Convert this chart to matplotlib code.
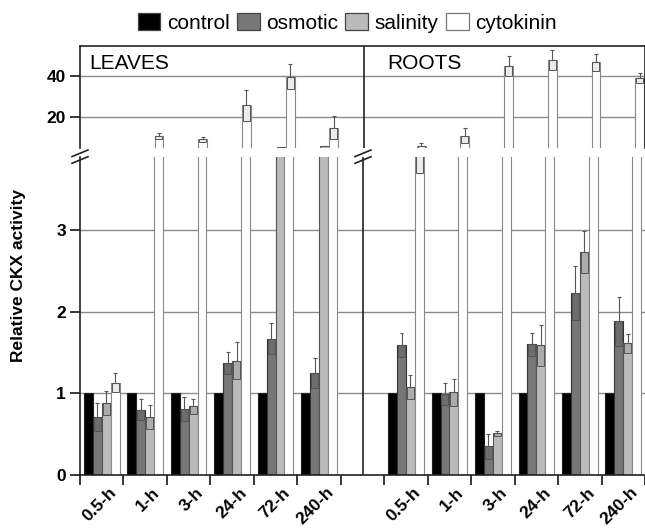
import matplotlib
matplotlib.use("Agg")
import matplotlib.pyplot as plt
import numpy as np
from matplotlib.patches import Patch
from matplotlib.lines import Line2D
import matplotlib.transforms as mtransforms

plt.rcParams['font.family'] = ['Liberation Sans', 'DejaVu Sans']

# ---------------- data ----------------
times = ['0.5-h', '1-h', '3-h', '24-h', '72-h', '240-h']
tissues = ['LEAVES', 'ROOTS']
series = ['control', 'osmotic', 'salinity', 'cytokinin']

leaves_control = [1, 1, 1, 1, 1, 1]
leaves_osmotic = [0.71, 0.80, 0.81, 1.37, 1.67, 1.25]
leaves_osmotic_err = [0.17, 0.13, 0.15, 0.13, 0.19, 0.18]
leaves_salinity = [0.88, 0.71, 0.84, 1.40, 5.2, 5.7]
leaves_salinity_err = [0.15, 0.15, 0.09, 0.23, 0.0, 0.0]
leaves_cytokinin = [1.13, 10.5, 9.0, 25.5, 39.5, 14.6]
leaves_cytokinin_err = [0.12, 1.5, 1.2, 7.5, 6.0, 5.5]

roots_control = [1, 1, 1, 1, 1, 1]
roots_osmotic = [1.59, 0.99, 0.35, 1.60, 2.23, 1.88]
roots_osmotic_err = [0.15, 0.13, 0.15, 0.14, 0.33, 0.30]
roots_salinity = [1.08, 1.01, 0.51, 1.59, 2.73, 1.61]
roots_salinity_err = [0.15, 0.16, 0.03, 0.25, 0.26, 0.12]
roots_cytokinin = [5.5, 10.7, 44.7, 47.7, 46.5, 38.7]
roots_cytokinin_err = [1.8, 3.7, 4.8, 4.7, 4.2, 2.5]

lower_ticks = [0, 1, 2, 3]
upper_ticks = [20, 40]
ylabel = 'Relative CKX activity'

# ---------------- style ----------------
colors = ['#000000', '#777777', '#bbbbbb', '#ffffff']
edges = ['#222222', '#333333', '#555555', '#888888']
err_c = '#555555'
W, H = 645, 531
fig = plt.figure(figsize=(W / 100, H / 100), dpi=100)

def fx(px):
    return px / W

def fy(py):
    return 1 - py / H

left_px, right_px = 80, 645
top_px, upbot_px = 45.7, 148
lowtop_px, base_px = 157, 475
slot_px = 43.7

ax_top = fig.add_axes([fx(left_px), fy(upbot_px), fx(right_px - left_px), (upbot_px - top_px) / H])
ax_bot = fig.add_axes([fx(left_px), fy(base_px), fx(right_px - left_px), (base_px - lowtop_px) / H])

xmax = -0.5 + (right_px - left_px) / slot_px

leaf_pos = np.arange(6)
root_pos = np.arange(6) + 7
bw = 0.205
offsets = np.array([-1.5, -0.5, 0.5, 1.5]) * bw + 0.0

data = [
    (leaf_pos, [leaves_control, leaves_osmotic, leaves_salinity, leaves_cytokinin],
     [None, leaves_osmotic_err, leaves_salinity_err, leaves_cytokinin_err]),
    (root_pos, [roots_control, roots_osmotic, roots_salinity, roots_cytokinin],
     [None, roots_osmotic_err, roots_salinity_err, roots_cytokinin_err]),
]

for ax in (ax_top, ax_bot):
    ax.set_xlim(-0.5, xmax)
    ax.set_axisbelow(True)
    ax.yaxis.grid(True, color='#8c8c8c', lw=1.0)
    for pos, vals, errs in data:
        for k in range(4):
            xs = pos + offsets[k]
            ax.bar(xs, vals[k], width=bw, color=colors[k], edgecolor=edges[k],
                   linewidth=0.8, zorder=2)
            if errs[k] is not None:
                v = np.array(vals[k], float)
                e = np.array(errs[k], float)
                m = e > 0
                ax.bar(xs[m], e[m], width=bw * 0.78, bottom=(v - e)[m],
                       facecolor=(0, 0, 0, 0.08), edgecolor=err_c, linewidth=0.7, zorder=3)
                ax.vlines(xs[m], v[m], (v + e)[m], color=err_c, lw=0.8, zorder=3)
                ax.hlines((v + e)[m], xs[m] - bw * 0.22, xs[m] + bw * 0.22,
                          color=err_c, lw=0.8, zorder=3)
    ax.axvline(6, color='#222222', lw=1.2, zorder=4)

# y scales
ax_bot.set_ylim(0, (base_px - lowtop_px) / 81.7)
up0 = 157.7
upscale = 2.05
ax_top.set_ylim((up0 - upbot_px) / upscale, (up0 - top_px) / upscale)
ax_bot.set_yticks(lower_ticks)
ax_top.set_yticks(upper_ticks)
for ax in (ax_top, ax_bot):
    ax.tick_params(axis='y', length=7, width=1.1, pad=3, labelsize=12.5)
    for lab in ax.get_yticklabels():
        lab.set_fontweight('bold')

# spines
ax_bot.spines['top'].set_visible(False)
ax_bot.spines['right'].set_visible(False)
ax_top.spines['bottom'].set_visible(False)
for ax in (ax_top, ax_bot):
    for s in ax.spines.values():
        s.set_linewidth(1.2)
        s.set_color('#222222')

# x ticks
bounds = np.arange(-0.5, 13.0, 1.0)
ax_top.set_xticks([])
ax_bot.set_xticks(bounds)
ax_bot.set_xticklabels([])
ax_bot.tick_params(axis='x', which='major', length=7, width=1.1)
centers = np.concatenate([leaf_pos, root_pos])
ax_bot.set_xticks(centers, minor=True)
ax_bot.set_xticklabels(times + times, minor=True, rotation=45, ha='right',
                       va='top', rotation_mode='anchor', fontsize=12.5, fontweight='bold')
ax_bot.tick_params(axis='x', which='minor', length=0, pad=7)
offset = mtransforms.ScaledTranslation(7 / 100, 0, fig.dpi_scale_trans)
for lab in ax_bot.get_xticklabels(minor=True):
    lab.set_transform(lab.get_transform() + offset)

# panel labels
ax_top.text(fx(89 - left_px) / fx(right_px - left_px), 0.83, tissues[0], transform=ax_top.transAxes,
            fontsize=15, va='center', ha='left')
ax_top.text(fx(387 - left_px) / fx(right_px - left_px), 0.83, tissues[1], transform=ax_top.transAxes,
            fontsize=15, va='center', ha='left')

# break marks
for bx in (left_px, 363):
    for by in (153.3, 160.0):
        fig.add_artist(Line2D([fx(bx - 8), fx(bx + 8)], [fy(by + 3.3), fy(by - 3.3)],
                              color='#222222', lw=1.2))

# y label
fig.text(fx(19), fy(275), ylabel, rotation=90, fontsize=12.5, fontweight='bold',
         ha='center', va='center')

# legend
handles = [Patch(facecolor=colors[k], edgecolor='#444444' if k < 3 else '#777777', linewidth=0.9)
           for k in range(4)]
fig.legend(handles, series, loc='center', bbox_to_anchor=(fx(347), fy(23)), ncol=4,
           frameon=False, fontsize=15, handlelength=1.1, handleheight=0.82,
           handletextpad=0.3, columnspacing=0.35, borderpad=0)

fig.savefig('out.png', dpi=100)
